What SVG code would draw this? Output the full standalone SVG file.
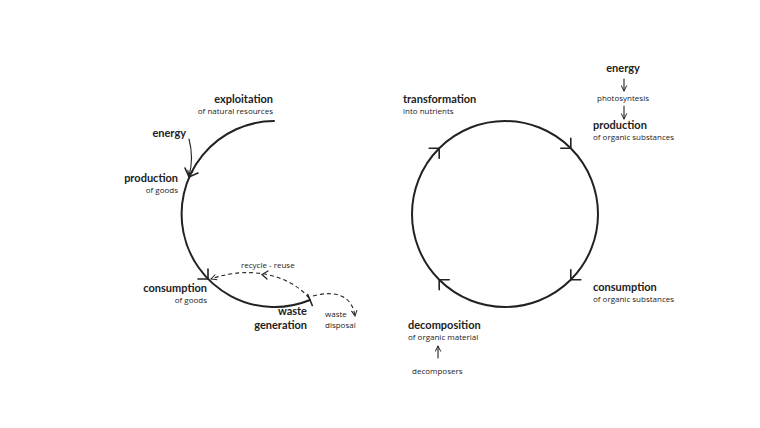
<svg xmlns="http://www.w3.org/2000/svg" width="760" height="428" viewBox="0 0 760 428">
<style>
text{font-family:"Open Sans","Noto Sans",sans-serif;fill:#222}
.b{font-family:Lato,"Open Sans",sans-serif;font-size:11px;font-weight:700}
.s{font-size:8px}
.r{text-anchor:end}
.m{text-anchor:middle}
.ring{fill:none;stroke:#222;stroke-width:2;stroke-linecap:round}
.ah{fill:none;stroke:#222;stroke-width:1.6;stroke-linecap:round;stroke-linejoin:miter}
.thin{fill:none;stroke:#222;stroke-width:1.1;stroke-linecap:round}
.dash{fill:none;stroke:#222;stroke-width:1.1;stroke-dasharray:4 3}
</style>
<defs>
<marker id="open" viewBox="0 0 10 10" refX="9" refY="5" markerWidth="7" markerHeight="7" markerUnits="userSpaceOnUse" orient="auto">
<path d="M1,1 L9,5 L1,9" fill="none" stroke="#222" stroke-width="1.4"/>
</marker>
</defs>
<rect width="760" height="428" fill="#fff"/>
<g id="connectors">
<path class="ring" d="M274,121 A93,93 0 1 0 310,300"/>
<path class="ah" d="M185,168 L189,177 L198,173"/>
<path class="ah" d="M198,279 L208,279 L208,269"/>
<path class="ah" d="M307.7,294.5 L312.3,305.5"/>
<path class="thin" d="M189,139 Q194,158 189,176" marker-end="url(#open)"/>
<path class="dash" d="M309,298 C290,275 250,265 211,279" marker-end="url(#open)"/>
<path class="ah" d="M268,271 L262,274.5 L267,279" style="stroke-width:1.2"/>
<path class="dash" d="M313,296 C335,290 352,295 355,316" marker-end="url(#open)"/>
<circle class="ring" cx="505" cy="214" r="93"/>
<path class="ah" d="M429.2,148.2 L439.2,148.2 L439.2,158.2"/>
<path class="ah" d="M560.8,148.2 L570.8,148.2 L570.8,138.2"/>
<path class="ah" d="M570.8,269.8 L570.8,279.8 L580.8,279.8"/>
<path class="ah" d="M449.2,279.8 L439.2,279.8 L439.2,289.8"/>
<path class="thin" d="M624,79 L624,91" marker-end="url(#open)"/>
<path class="thin" d="M624,106 L624,119" marker-end="url(#open)"/>
<path class="thin" d="M438,358 L438,346" marker-end="url(#open)"/>
</g>
<g id="exploitation">
<text class="b r" x="273" y="103">exploitation</text>
<text class="s r" x="273" y="114">of natural resources</text>
</g>
<g id="energy-left">
<text class="b r" x="186" y="137">energy</text>
</g>
<g id="production-goods">
<text class="b r" x="178" y="182">production</text>
<text class="s r" x="178" y="193">of goods</text>
</g>
<g id="consumption-goods">
<text class="b r" x="207" y="292">consumption</text>
<text class="s r" x="207" y="303">of goods</text>
</g>
<g id="waste-generation">
<text class="b r" x="307" y="315">waste</text>
<text class="b r" x="307" y="329">generation</text>
</g>
<g id="recycle-reuse">
<text class="s" x="241" y="268">recycle - reuse</text>
</g>
<g id="waste-disposal">
<text class="s" x="325" y="317">waste</text>
<text class="s" x="325" y="328">disposal</text>
</g>
<g id="transformation">
<text class="b" x="403" y="103">transformation</text>
<text class="s" x="403" y="114">into nutrients</text>
</g>
<g id="energy-right">
<text class="b m" x="623" y="72">energy</text>
</g>
<g id="photosyntesis">
<text class="s m" x="623" y="101">photosyntesis</text>
</g>
<g id="production-organic">
<text class="b" x="593" y="129">production</text>
<text class="s" x="593" y="140">of organic substances</text>
</g>
<g id="consumption-organic">
<text class="b" x="593" y="291">consumption</text>
<text class="s" x="593" y="302">of organic substances</text>
</g>
<g id="decomposition">
<text class="b" x="408" y="329">decomposition</text>
<text class="s" x="408" y="340">of organic material</text>
</g>
<g id="decomposers">
<text class="s" x="412" y="374">decomposers</text>
</g>
</svg>
